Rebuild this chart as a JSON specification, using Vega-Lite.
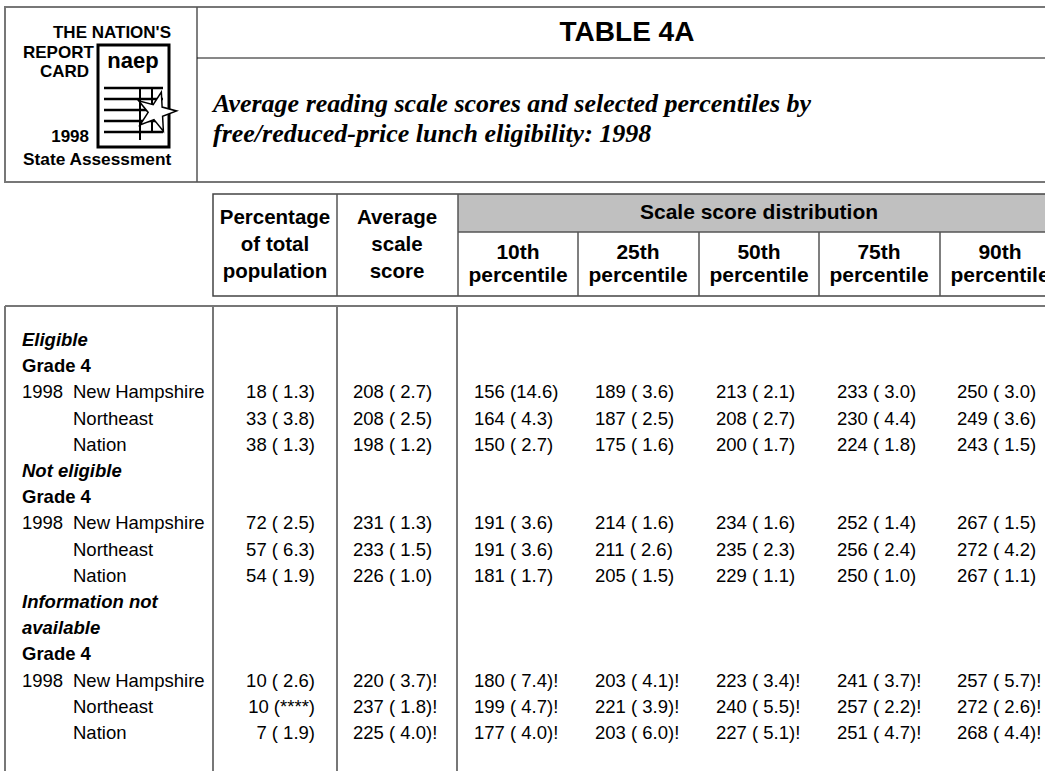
{
  "$schema": "https://vega.github.io/schema/vega-lite/v6.json",
  "width": 1045,
  "height": 771,
  "autosize": "none",
  "padding": 0,
  "background": "white",
  "config": {
    "view": {"stroke": null},
    "axis": {"disable": true},
    "text": {"font": "Liberation Sans", "fontSize": 18.5, "color": "#000"}
  },
  "datasets": {
    "table": [
      {"row": "r01", "kind": "group", "label": "Eligible"},
      {"row": "r02", "kind": "grade", "label": "Grade 4"},
      {"row": "r03", "kind": "data", "year": "1998", "state": "New Hampshire", "pct": "18 ( 1.3)", "avg": "208 ( 2.7)", "p10": "156 (14.6)", "p25": "189 ( 3.6)", "p50": "213 ( 2.1)", "p75": "233 ( 3.0)", "p90": "250 ( 3.0)"},
      {"row": "r04", "kind": "data", "state": "Northeast", "pct": "33 ( 3.8)", "avg": "208 ( 2.5)", "p10": "164 ( 4.3)", "p25": "187 ( 2.5)", "p50": "208 ( 2.7)", "p75": "230 ( 4.4)", "p90": "249 ( 3.6)"},
      {"row": "r05", "kind": "data", "state": "Nation", "pct": "38 ( 1.3)", "avg": "198 ( 1.2)", "p10": "150 ( 2.7)", "p25": "175 ( 1.6)", "p50": "200 ( 1.7)", "p75": "224 ( 1.8)", "p90": "243 ( 1.5)"},
      {"row": "r06", "kind": "group", "label": "Not eligible"},
      {"row": "r07", "kind": "grade", "label": "Grade 4"},
      {"row": "r08", "kind": "data", "year": "1998", "state": "New Hampshire", "pct": "72 ( 2.5)", "avg": "231 ( 1.3)", "p10": "191 ( 3.6)", "p25": "214 ( 1.6)", "p50": "234 ( 1.6)", "p75": "252 ( 1.4)", "p90": "267 ( 1.5)"},
      {"row": "r09", "kind": "data", "state": "Northeast", "pct": "57 ( 6.3)", "avg": "233 ( 1.5)", "p10": "191 ( 3.6)", "p25": "211 ( 2.6)", "p50": "235 ( 2.3)", "p75": "256 ( 2.4)", "p90": "272 ( 4.2)"},
      {"row": "r10", "kind": "data", "state": "Nation", "pct": "54 ( 1.9)", "avg": "226 ( 1.0)", "p10": "181 ( 1.7)", "p25": "205 ( 1.5)", "p50": "229 ( 1.1)", "p75": "250 ( 1.0)", "p90": "267 ( 1.1)"},
      {"row": "r11", "kind": "group", "label": "Information not"},
      {"row": "r12", "kind": "group", "label": "available"},
      {"row": "r13", "kind": "grade", "label": "Grade 4"},
      {"row": "r14", "kind": "data", "year": "1998", "state": "New Hampshire", "pct": "10 ( 2.6)", "avg": "220 ( 3.7)!", "p10": "180 ( 7.4)!", "p25": "203 ( 4.1)!", "p50": "223 ( 3.4)!", "p75": "241 ( 3.7)!", "p90": "257 ( 5.7)!"},
      {"row": "r15", "kind": "data", "state": "Northeast", "pct": "10 (****)", "avg": "237 ( 1.8)!", "p10": "199 ( 4.7)!", "p25": "221 ( 3.9)!", "p50": "240 ( 5.5)!", "p75": "257 ( 2.2)!", "p90": "272 ( 2.6)!"},
      {"row": "r16", "kind": "data", "state": "Nation", "pct": "7 ( 1.9)", "avg": "225 ( 4.0)!", "p10": "177 ( 4.0)!", "p25": "203 ( 6.0)!", "p50": "227 ( 5.1)!", "p75": "251 ( 4.7)!", "p90": "268 ( 4.4)!"}
    ]
  },
  "data": {"values": [{"k": 0}]},
  "resolve": {"scale": {"y": "independent"}},
  "layer": [
    {
      "layer": [
        {"mark": {"type": "rect", "fill": "#c0c0c0"},
         "encoding": {"x": {"datum": 458, "scale": {"domain": [0, 1045], "range": [0, 1045], "nice": false, "zero": false}}, "x2": {"datum": 1060},
                      "y": {"datum": 194, "scale": {"domain": [0, 771], "range": [0, 771], "nice": false, "zero": false}}, "y2": {"datum": 232}}},
        {"mark": {"type": "rect", "fill": "transparent", "stroke": "#777", "strokeWidth": 2},
         "encoding": {"x": {"datum": 5}, "x2": {"datum": 1060}, "y": {"datum": 7}, "y2": {"datum": 182}}},
        {"mark": {"type": "rule", "stroke": "#555", "strokeWidth": 1.5},
         "encoding": {"x": {"datum": 197}, "y": {"datum": 7}, "y2": {"datum": 182}}},
        {"mark": {"type": "rule", "stroke": "#111", "strokeWidth": 1},
         "encoding": {"x": {"datum": 197}, "x2": {"datum": 1060}, "y": {"datum": 58}}},
        {"mark": {"type": "rect", "fill": "transparent", "stroke": "#444", "strokeWidth": 1.5},
         "encoding": {"x": {"datum": 213}, "x2": {"datum": 1060}, "y": {"datum": 194}, "y2": {"datum": 296}}},
        {"mark": {"type": "rule", "stroke": "#555", "strokeWidth": 1.5},
         "encoding": {"x": {"datum": 337}, "y": {"datum": 194}, "y2": {"datum": 296}}},
        {"mark": {"type": "rule", "stroke": "#555", "strokeWidth": 1.5},
         "encoding": {"x": {"datum": 458}, "y": {"datum": 194}, "y2": {"datum": 296}}},
        {"mark": {"type": "rule", "stroke": "#555", "strokeWidth": 1.5},
         "encoding": {"x": {"datum": 458}, "x2": {"datum": 1060}, "y": {"datum": 232}}},
        {"mark": {"type": "rule", "stroke": "#555", "strokeWidth": 1.5},
         "encoding": {"x": {"datum": 578}, "y": {"datum": 232}, "y2": {"datum": 296}}},
        {"mark": {"type": "rule", "stroke": "#555", "strokeWidth": 1.5},
         "encoding": {"x": {"datum": 699}, "y": {"datum": 232}, "y2": {"datum": 296}}},
        {"mark": {"type": "rule", "stroke": "#555", "strokeWidth": 1.5},
         "encoding": {"x": {"datum": 819}, "y": {"datum": 232}, "y2": {"datum": 296}}},
        {"mark": {"type": "rule", "stroke": "#555", "strokeWidth": 1.5},
         "encoding": {"x": {"datum": 940}, "y": {"datum": 232}, "y2": {"datum": 296}}},
        {"mark": {"type": "rule", "stroke": "#777", "strokeWidth": 2},
         "encoding": {"x": {"datum": 5}, "x2": {"datum": 1060}, "y": {"datum": 306}}},
        {"mark": {"type": "rule", "stroke": "#777", "strokeWidth": 2},
         "encoding": {"x": {"datum": 5}, "y": {"datum": 306}, "y2": {"datum": 771}}},
        {"mark": {"type": "rule", "stroke": "#777", "strokeWidth": 2},
         "encoding": {"x": {"datum": 213}, "y": {"datum": 306}, "y2": {"datum": 771}}},
        {"mark": {"type": "rule", "stroke": "#777", "strokeWidth": 2},
         "encoding": {"x": {"datum": 337}, "y": {"datum": 306}, "y2": {"datum": 771}}},
        {"mark": {"type": "rule", "stroke": "#777", "strokeWidth": 2},
         "encoding": {"x": {"datum": 457}, "y": {"datum": 306}, "y2": {"datum": 771}}},

        {"mark": {"type": "rect", "fill": "white", "stroke": "#000", "strokeWidth": 3},
         "encoding": {"x": {"datum": 98}, "x2": {"datum": 169}, "y": {"datum": 45}, "y2": {"datum": 147}}},
        {"mark": {"type": "rule", "stroke": "#000", "strokeWidth": 2.5},
         "encoding": {"x": {"datum": 104}, "x2": {"datum": 163}, "y": {"datum": 88}}},
        {"mark": {"type": "rule", "stroke": "#000", "strokeWidth": 2.5},
         "encoding": {"x": {"datum": 104}, "x2": {"datum": 163}, "y": {"datum": 99}}},
        {"mark": {"type": "rule", "stroke": "#000", "strokeWidth": 2.5},
         "encoding": {"x": {"datum": 104}, "x2": {"datum": 163}, "y": {"datum": 110}}},
        {"mark": {"type": "rule", "stroke": "#000", "strokeWidth": 2.5},
         "encoding": {"x": {"datum": 104}, "x2": {"datum": 163}, "y": {"datum": 121}}},
        {"mark": {"type": "rule", "stroke": "#000", "strokeWidth": 2.5},
         "encoding": {"x": {"datum": 104}, "x2": {"datum": 163}, "y": {"datum": 132}}},
        {"mark": {"type": "rule", "stroke": "#000", "strokeWidth": 2},
         "encoding": {"x": {"datum": 140}, "y": {"datum": 88}, "y2": {"datum": 140}}},
        {"mark": {"type": "rule", "stroke": "#000", "strokeWidth": 2},
         "encoding": {"x": {"datum": 152}, "y": {"datum": 88}, "y2": {"datum": 132}}},
        {"mark": {"type": "point", "shape": "M0,-1L0.2245,-0.309L0.951,-0.309L0.363,0.118L0.588,0.809L0,0.382L-0.588,0.809L-0.363,0.118L-0.951,-0.309L-0.2245,-0.309Z", "filled": true, "fill": "white", "stroke": "#000", "strokeWidth": 1.5, "size": 1700, "angle": 15, "opacity": 1},
         "encoding": {"x": {"datum": 156}, "y": {"datum": 112}}},
        {"mark": {"type": "text", "align": "center", "baseline": "middle", "fontWeight": "bold", "fontSize": 22, "font": "Liberation Sans"},
         "encoding": {"x": {"datum": 133}, "y": {"datum": 61}, "text": {"value": "naep"}}},

        {"mark": {"type": "text", "align": "right", "baseline": "middle", "fontWeight": "bold", "fontSize": 17},
         "encoding": {"x": {"datum": 171}, "y": {"datum": 33}, "text": {"value": "THE NATION'S"}}},
        {"mark": {"type": "text", "align": "left", "baseline": "middle", "fontWeight": "bold", "fontSize": 17},
         "encoding": {"x": {"datum": 23}, "y": {"datum": 53}, "text": {"value": "REPORT"}}},
        {"mark": {"type": "text", "align": "right", "baseline": "middle", "fontWeight": "bold", "fontSize": 17},
         "encoding": {"x": {"datum": 89}, "y": {"datum": 72}, "text": {"value": "CARD"}}},
        {"mark": {"type": "text", "align": "right", "baseline": "middle", "fontWeight": "bold", "fontSize": 17},
         "encoding": {"x": {"datum": 89}, "y": {"datum": 137}, "text": {"value": "1998"}}},
        {"mark": {"type": "text", "align": "left", "baseline": "middle", "fontWeight": "bold", "fontSize": 17.3},
         "encoding": {"x": {"datum": 23}, "y": {"datum": 160}, "text": {"value": "State Assessment"}}},

        {"mark": {"type": "text", "align": "center", "baseline": "middle", "fontWeight": "bold", "fontSize": 28},
         "encoding": {"x": {"datum": 627}, "y": {"datum": 33}, "text": {"value": "TABLE 4A"}}},
        {"mark": {"type": "text", "align": "left", "baseline": "alphabetic", "fontWeight": "bold", "fontStyle": "italic", "fontSize": 26, "lineHeight": 30, "font": "Liberation Serif"},
         "encoding": {"x": {"datum": 213}, "y": {"datum": 112}, "text": {"value": ["Average reading scale scores and selected percentiles by", "free/reduced-price lunch eligibility: 1998"]}}},

        {"mark": {"type": "text", "align": "center", "baseline": "middle", "fontWeight": "bold", "fontSize": 21},
         "encoding": {"x": {"datum": 759}, "y": {"datum": 213}, "text": {"value": "Scale score distribution"}}},
        {"mark": {"type": "text", "align": "center", "baseline": "middle", "fontWeight": "bold", "fontSize": 20.5, "lineHeight": 27},
         "encoding": {"x": {"datum": 275}, "y": {"datum": 218}, "text": {"value": ["Percentage", "of total", "population"]}}},
        {"mark": {"type": "text", "align": "center", "baseline": "middle", "fontWeight": "bold", "fontSize": 20.5, "lineHeight": 27},
         "encoding": {"x": {"datum": 397}, "y": {"datum": 218}, "text": {"value": ["Average", "scale", "score"]}}},
        {"mark": {"type": "text", "align": "center", "baseline": "middle", "fontWeight": "bold", "fontSize": 21, "lineHeight": 23},
         "encoding": {"x": {"datum": 518}, "y": {"datum": 253}, "text": {"value": ["10th", "percentile"]}}},
        {"mark": {"type": "text", "align": "center", "baseline": "middle", "fontWeight": "bold", "fontSize": 21, "lineHeight": 23},
         "encoding": {"x": {"datum": 638}, "y": {"datum": 253}, "text": {"value": ["25th", "percentile"]}}},
        {"mark": {"type": "text", "align": "center", "baseline": "middle", "fontWeight": "bold", "fontSize": 21, "lineHeight": 23},
         "encoding": {"x": {"datum": 759}, "y": {"datum": 253}, "text": {"value": ["50th", "percentile"]}}},
        {"mark": {"type": "text", "align": "center", "baseline": "middle", "fontWeight": "bold", "fontSize": 21, "lineHeight": 23},
         "encoding": {"x": {"datum": 879}, "y": {"datum": 253}, "text": {"value": ["75th", "percentile"]}}},
        {"mark": {"type": "text", "align": "center", "baseline": "middle", "fontWeight": "bold", "fontSize": 21, "lineHeight": 23},
         "encoding": {"x": {"datum": 1000}, "y": {"datum": 253}, "text": {"value": ["90th", "percentile"]}}}
      ]
    },
    {
      "data": {"name": "table"},
      "layer": [
        {"transform": [{"filter": "datum.kind === 'group'"}],
         "mark": {"type": "text", "align": "left", "baseline": "middle", "fontWeight": "bold", "fontStyle": "italic"},
         "encoding": {"x": {"datum": 22},
                      "y": {"field": "row", "type": "nominal", "scale": {"type": "point", "domain": ["r01","r02","r03","r04","r05","r06","r07","r08","r09","r10","r11","r12","r13","r14","r15","r16"], "range": [340, 733], "padding": 0}},
                      "text": {"field": "label"}}},
        {"transform": [{"filter": "datum.kind === 'grade'"}],
         "mark": {"type": "text", "align": "left", "baseline": "middle", "fontWeight": "bold"},
         "encoding": {"x": {"datum": 22}, "y": {"field": "row", "type": "nominal"}, "text": {"field": "label"}}},
        {"transform": [{"filter": "datum.year"}],
         "mark": {"type": "text", "align": "left", "baseline": "middle"},
         "encoding": {"x": {"datum": 22}, "y": {"field": "row", "type": "nominal"}, "text": {"field": "year"}}},
        {"transform": [{"filter": "datum.kind === 'data'"}],
         "mark": {"type": "text", "align": "left", "baseline": "middle"},
         "encoding": {"x": {"datum": 73}, "y": {"field": "row", "type": "nominal"}, "text": {"field": "state"}}},
        {"transform": [{"filter": "datum.kind === 'data'"}],
         "mark": {"type": "text", "align": "right", "baseline": "middle"},
         "encoding": {"x": {"datum": 315}, "y": {"field": "row", "type": "nominal"}, "text": {"field": "pct"}}},
        {"transform": [{"filter": "datum.kind === 'data'"}],
         "mark": {"type": "text", "align": "left", "baseline": "middle"},
         "encoding": {"x": {"datum": 353}, "y": {"field": "row", "type": "nominal"}, "text": {"field": "avg"}}},
        {"transform": [{"filter": "datum.kind === 'data'"}],
         "mark": {"type": "text", "align": "left", "baseline": "middle"},
         "encoding": {"x": {"datum": 474}, "y": {"field": "row", "type": "nominal"}, "text": {"field": "p10"}}},
        {"transform": [{"filter": "datum.kind === 'data'"}],
         "mark": {"type": "text", "align": "left", "baseline": "middle"},
         "encoding": {"x": {"datum": 595}, "y": {"field": "row", "type": "nominal"}, "text": {"field": "p25"}}},
        {"transform": [{"filter": "datum.kind === 'data'"}],
         "mark": {"type": "text", "align": "left", "baseline": "middle"},
         "encoding": {"x": {"datum": 716}, "y": {"field": "row", "type": "nominal"}, "text": {"field": "p50"}}},
        {"transform": [{"filter": "datum.kind === 'data'"}],
         "mark": {"type": "text", "align": "left", "baseline": "middle"},
         "encoding": {"x": {"datum": 837}, "y": {"field": "row", "type": "nominal"}, "text": {"field": "p75"}}},
        {"transform": [{"filter": "datum.kind === 'data'"}],
         "mark": {"type": "text", "align": "left", "baseline": "middle"},
         "encoding": {"x": {"datum": 957}, "y": {"field": "row", "type": "nominal"}, "text": {"field": "p90"}}}
      ]
    }
  ]
}
